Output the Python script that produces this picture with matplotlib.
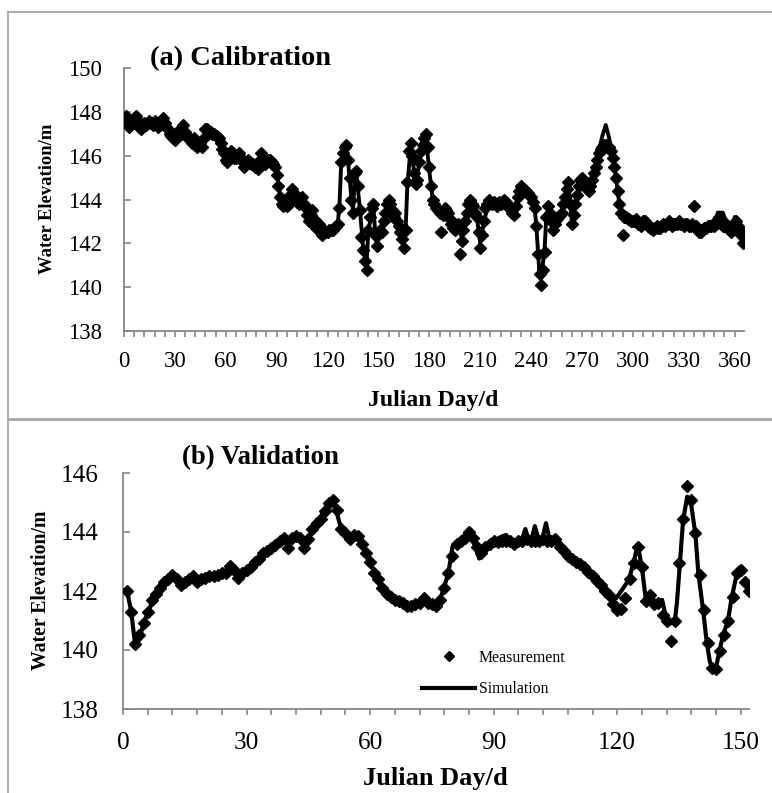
import numpy as np
import matplotlib
matplotlib.use("Agg")
import matplotlib.pyplot as plt
from matplotlib.lines import Line2D
from matplotlib.ticker import MultipleLocator

plt.rcParams['font.family'] = ['Liberation Serif', 'DejaVu Serif']

# ---------------- data: (a) calibration ----------------
cal_meas = [
    147.8, 147.5, 147.3, 147.4, 147.6, 147.7, 147.8, 147.6, 147.3, 147.2,
    147.4, 147.5, 147.4, 147.5, 147.6, 147.5, 147.4, 147.6, 147.5, 147.3,
    147.4, 147.6, 147.7, 147.5, 147.3, 147.2, 147.0, 146.9, 146.8, 146.7,
    146.9, 147.1, 147.2, 147.0, 147.4, 147.1, 146.9, 146.8, 146.7, 146.6,
    146.8, 146.5, 146.4, 146.6, 146.6, 146.4, 146.8, 147.2, 147.2, 147.1,
    147.1, 147.0, 147.0, 146.9, 146.9, 146.8, 146.6, 146.3, 146.1, 145.8,
    145.7, 146.0, 146.2, 146.1, 145.9, 145.9, 146.0, 146.1, 145.9, 145.7,
    145.5, 145.7, 145.8, 145.7, 145.6, 145.6, 145.5, 145.5, 145.4, 145.8,
    146.1, 145.8, 145.6, 145.7, 145.8, 145.8, 145.7, 145.6, 145.5, 145.1,
    144.6, 144.1, 143.8, 143.7, 143.8, 143.7, 143.8, 144.2, 144.5, 144.3,
    144.0, 143.9, 143.8, 144.0, 144.1, 143.8, 143.6, 143.3, 143.0, 143.3,
    143.5, 143.1, 142.7, 142.8, 142.9, 142.6, 142.4, 142.6, 142.5, 142.5,
    142.6, 142.6, 142.6, 142.7, 142.8, 142.9, 143.6, 145.7, 146.1, 146.4,
    146.5, 145.8, 145.0, 144.0, 143.4, 145.2, 145.3, 144.6, 143.5, 142.3,
    141.7, 141.2, 140.8, 142.6, 143.2, 143.6, 143.8, 142.4, 141.9, 142.4,
    142.6, 142.5, 143.0, 143.4, 143.8, 144.0, 143.8, 143.5, 143.2, 143.4,
    143.0, 142.8, 142.5, 142.2, 141.8, 142.6, 144.8, 146.2, 146.6, 146.0,
    145.2, 144.7, 144.9, 145.7, 146.2, 146.5, 146.8, 147.0, 146.4, 145.5,
    144.6, 144.0, 143.8, 143.6, 143.5, 143.4, 142.5, 143.3, 143.6, 143.5,
    143.4, 143.1, 142.9, 142.7, 142.6, 142.8, 142.9, 141.5, 142.1, 142.6,
    143.0, 143.4, 143.8, 144.0, 143.8, 143.7, 143.4, 143.2, 142.5, 141.8,
    142.4, 143.0, 143.6, 143.8, 144.0, 143.9, 143.8, 143.9, 143.8, 143.7,
    143.9, 143.8, 143.9, 144.0, 143.9, 143.8, 143.6, 143.6, 143.4, 143.3,
    143.7, 144.1, 144.4, 144.6, 144.5, 144.5, 144.4, 144.3, 144.2, 144.1,
    143.9, 143.6, 142.8, 141.5, 140.6, 140.1, 140.8, 141.6, 143.2, 143.7,
    143.4, 143.0, 142.6, 142.9, 143.1, 143.2, 143.3, 143.4, 143.8, 144.1,
    144.5, 144.8, 143.8, 142.9, 143.3, 143.8, 144.2, 144.6, 144.9, 145.0,
    144.8, 144.7, 144.5, 144.4, 144.6, 144.9, 145.2, 145.5, 145.8, 146.1,
    146.3, 146.4, 146.5, 146.5, 146.4, 146.4, 146.2, 145.9, 145.5, 145.0,
    144.4, 143.8, 143.4, 142.4, 143.2, 143.2, 143.1, 143.1, 143.0, 143.0,
    143.0, 143.1, 142.9, 142.9, 142.8, 143.0, 143.0, 142.9, 142.8, 142.7,
    142.7, 142.6, 142.7, 142.8, 142.7, 142.7, 142.8, 142.9, 142.8, 142.9,
    143.0, 142.9, 142.8, 142.9, 142.9, 142.9, 143.0, 142.9, 142.9, 142.8,
    142.9, 142.9, 142.8, 142.8, 142.9, 143.7, 142.8, 142.7, 142.5, 142.5,
    142.6, 142.7, 142.7, 142.8, 142.8, 142.8, 142.9, 142.8, 142.9, 143.1,
    143.2, 142.9, 142.8, 142.8, 142.9, 142.7, 142.6, 142.5, 142.7, 142.9,
    143.0, 142.8, 142.6, 142.4, 142.0,
]
cal_sim_days = [1, 3, 5, 7, 10, 13, 16, 19, 23, 26, 29, 31, 33, 35, 37, 40, 43, 46, 48, 51,
                54, 57, 59, 61, 63, 66, 68, 71, 73, 76, 79, 81, 83, 86, 89, 90, 92, 94, 97, 99,
                101, 103, 105, 107, 109, 111, 113, 115, 117, 120, 123, 125, 126, 127, 128, 130, 131, 132, 134, 135,
                136, 137, 139, 141, 143, 144, 147, 148, 149, 151, 153, 156, 158, 160, 163, 165, 166, 167, 169, 171,
                172, 174, 176, 178, 180, 182, 186, 189, 191, 195, 197, 199, 201, 204, 206, 208, 210, 212, 215, 220,
                224, 227, 230, 233, 235, 239, 242, 243, 244, 245, 246, 248, 249, 251, 253, 256, 258, 262, 264, 266,
                270, 274, 278, 282, 284, 286, 288, 290, 292, 294, 297, 302, 307, 312, 316, 321, 326, 331, 335, 340,
                344, 347, 349, 350, 353, 355, 357, 358, 360, 362, 364, 365]
cal_sim_vals = [147.7, 147.4, 147.6, 147.7, 147.3, 147.4, 147.5, 147.5, 147.6, 147.3, 146.9, 146.9, 147.1, 147.3, 147.0, 146.7, 146.5, 146.5, 147.1, 147.1,
                146.9, 146.6, 146.2, 145.8, 146.1, 145.9, 146.0, 145.6, 145.8, 145.6, 145.5, 145.9, 145.7, 145.8, 145.6, 145.2, 144.2, 143.8, 143.8, 144.4,
                144.1, 143.9, 144.0, 143.6, 143.1, 143.4, 142.8, 142.8, 142.5, 142.5, 142.6, 142.8, 142.9, 143.7, 145.6, 146.3, 146.4, 145.8, 144.1, 143.5,
                145.0, 145.2, 143.6, 141.8, 141.0, 142.6, 143.7, 142.6, 142.0, 142.5, 143.0, 143.9, 143.5, 143.3, 142.6, 142.0, 142.6, 144.6, 146.4, 145.3,
                144.8, 145.6, 146.6, 146.8, 145.3, 144.0, 143.4, 143.6, 143.4, 142.6, 142.8, 142.3, 143.0, 143.9, 143.7, 143.2, 142.0, 142.9, 143.9, 143.8,
                143.9, 143.6, 143.4, 144.3, 144.5, 144.2, 143.6, 142.9, 141.7, 140.5, 140.4, 141.8, 143.3, 143.4, 142.7, 143.2, 143.5, 144.7, 143.0, 143.8,
                144.9, 144.5, 145.6, 146.9, 147.4, 146.8, 146.0, 145.0, 143.8, 143.3, 143.1, 143.1, 142.9, 142.6, 142.8, 143.0, 142.9, 142.9, 142.8, 142.5,
                142.7, 142.8, 143.0, 143.4, 143.4, 143.0, 142.8, 142.7, 143.2, 143.1, 142.6, 142.2]

# ---------------- data: (b) validation ----------------
val_meas = [
    142.0, 141.3, 140.2, 140.5, 140.9, 141.3, 141.7, 141.9, 142.1, 142.3,
    142.4, 142.55, 142.4, 142.2, 142.3, 142.4, 142.5, 142.3, 142.4, 142.45,
    142.5, 142.5, 142.55, 142.6, 142.6, 142.85, 142.7, 142.45, 142.6, 142.7,
    142.8, 143.0, 143.1, 143.3, 143.35, 143.45, 143.55, 143.7, 143.8, 143.45,
    143.8, 143.85, 143.8, 143.45, 143.75, 144.1, 144.3, 144.45, 144.7, 145.0,
    145.1, 144.75, 144.1, 143.95, 143.75, 143.9, 143.85, 143.6, 143.3, 143.0,
    142.6, 142.4, 142.1, 141.9, 141.8, 141.7, 141.65, 141.6, 141.5, 141.5,
    141.55, 141.6, 141.75, 141.6, 141.55, 141.5, 141.7, 142.1, 142.6, 143.2,
    143.6, 143.7, 143.8, 144.0, 143.8, 143.5, 143.3, 143.5, 143.6, 143.7,
    143.65, 143.7, 143.7, 143.7, 143.6, 143.7, 143.7, 143.75, 143.7, 143.7,
    143.7, 143.75, 143.7, 143.7, 143.75, 143.5, 143.35, 143.2, 143.1, 143.0,
    142.9, 142.8, 142.65, 142.5, 142.35, 142.2, 142.0, 141.85, 141.55, 141.35,
    141.4, 141.75, 142.4, 142.95, 143.5, 142.8, 141.65, 141.85, 141.55, 141.6,
    141.2, 141.0, 140.3, 141.0, 142.95, 144.45, 145.55, 145.1, 143.95, 142.55,
    141.35, 140.25, 139.4, 139.35, 139.95, 140.5, 141.0, 141.8, 142.6, 142.7,
    142.3, 142.0,
]
val_sim_days = [1, 2, 3, 4, 5, 7, 9, 11, 12, 14, 16, 18, 22, 25, 26, 28, 30, 33, 35, 38,
                39, 40, 41, 43, 44, 46, 48, 50, 51, 52, 53, 55, 57, 58, 60, 62, 64, 66, 69, 71,
                73, 74, 76, 77, 79, 80, 82, 84, 85, 86.5, 88, 90, 92, 93, 94, 95.5, 97, 97.7, 98.5, 99.3,
                100, 100.8, 101.7, 102.7, 103.5, 105.5, 107.5, 108.3, 109, 110, 112.4, 114.8, 117.3, 119.7, 121, 122.9, 124, 125, 126, 126.9,
                127.7, 129.3, 130.9, 131.7, 133, 134, 134.5, 135.2, 136, 137, 138, 139, 139.7, 140.9, 141.7, 142.5, 143.2, 144, 144.7, 145.7,
                146.9, 147.7, 148.9, 149.7, 150.3]
val_sim_vals = [142.0, 141.3, 140.1, 140.4, 140.9, 141.6, 142.0, 142.4, 142.55, 142.2, 142.4, 142.3, 142.5, 142.6, 142.85, 142.45, 142.7, 143.1, 143.4, 143.7,
                143.85, 143.5, 143.85, 143.85, 143.5, 144.1, 144.5, 145.05, 145.15, 144.6, 144.1, 143.8, 143.9, 143.6, 143.0, 142.3, 141.9, 141.7, 141.5, 141.55,
                141.8, 141.6, 141.5, 141.7, 142.6, 143.5, 143.7, 144.1, 143.7, 143.1, 143.55, 143.7, 143.85, 143.9, 143.75, 143.6, 143.8, 144.1, 143.7, 143.8,
                144.2, 143.8, 143.7, 144.3, 143.8, 143.75, 143.4, 143.05, 143.2, 143.05, 142.8, 142.4, 142.0, 141.75, 142.0, 142.4, 143.0, 143.55, 142.8, 141.75,
                141.9, 141.6, 141.7, 141.2, 140.9, 141.0, 141.6, 142.9, 144.4, 145.2, 144.9, 143.9, 142.6, 141.3, 140.3, 139.6, 139.35, 139.4, 139.9, 140.5,
                141.0, 141.7, 142.5, 142.8, 142.6]

# ---------------- figure ----------------
W, H = 772, 793
fig = plt.figure(figsize=(W / 100, H / 100), dpi=100)

def fx(px):
    return px / W

def fy(py):
    return 1 - py / H

frame_c = '#A6A6A6'
spine_c = '#868686'

# outer frames
fig.add_artist(Line2D([fx(8), fx(772)], [fy(12), fy(12)], color=frame_c, lw=1.3))
fig.add_artist(Line2D([fx(8), fx(8)], [fy(12), fy(793)], color=frame_c, lw=1.3))
fig.add_artist(Line2D([fx(8), fx(772)], [fy(419), fy(419)], color=frame_c, lw=2.0))

def style_axes(ax, ylo, yhi, xmax, tsize, xpad, ypad):
    for s in ['top', 'right']:
        ax.spines[s].set_visible(False)
    for s in ['left', 'bottom']:
        ax.spines[s].set_color(spine_c)
        ax.spines[s].set_linewidth(1.3)
    ax.set_ylim(ylo, yhi)
    ax.set_xlim(0, xmax)
    ax.yaxis.set_major_locator(MultipleLocator(2))
    ax.xaxis.set_major_locator(MultipleLocator(30))
    ax.xaxis.set_minor_locator(MultipleLocator(6))
    ax.tick_params(axis='y', direction='in', length=5, width=1.2, color=spine_c,
                   labelsize=tsize, pad=ypad)
    ax.tick_params(axis='x', which='both', direction='out', length=4, width=1.2,
                   color=spine_c, labelsize=tsize, pad=xpad)
    ax.set_facecolor('none')

# (a) Calibration
ax1 = fig.add_axes([fx(124), fy(331), (744 - 124) / W, (331 - 68) / H])
style_axes(ax1, 138, 150, 365.5, 16.3, 10.3, 15.8)
d_a = np.arange(1, len(cal_meas) + 1)
ax1.plot(cal_sim_days, cal_sim_vals, color='black', lw=2.8, zorder=3)
ax1.plot(d_a, cal_meas, linestyle='none', marker='D', ms=5.8, color='black', zorder=4)

# (b) Validation
ax2 = fig.add_axes([fx(123), fy(709), (749 - 123) / W, (709 - 473) / H])
style_axes(ax2, 138, 146, 152, 18.2, 12.3, 17.8)
d_b = np.arange(1, len(val_meas) + 1)
ax2.plot(val_sim_days, val_sim_vals, color='black', lw=3.0, zorder=3, label='Simulation')
ax2.plot(d_b, val_meas, linestyle='none', marker='D', ms=5.8, color='black', zorder=4,
         label='Measurement')

h_meas = Line2D([], [], linestyle='none', marker='D', ms=5, color='black')
h_sim = Line2D([], [], color='black', lw=3.0)
fig.legend([h_meas, h_sim], ['Measurement', 'Simulation'], loc='upper left',
           bbox_to_anchor=(fx(422), fy(650)), frameon=False, fontsize=11.4,
           handlelength=3.35, handletextpad=0.25, labelspacing=0.95,
           borderpad=0, borderaxespad=0)

# texts
fig.text(fx(150), fy(59), '(a) Calibration', fontsize=20.5, fontweight='bold',
         ha='left', va='center')
fig.text(fx(182), fy(458), '(b) Validation', fontsize=19.3, fontweight='bold',
         ha='left', va='center')
fig.text(fx(48), fy(199), 'Water Elevation/m', fontsize=13.4, fontweight='bold',
         rotation=90, ha='center', va='center')
fig.text(fx(41), fy(590), 'Water Elevation/m', fontsize=14.2, fontweight='bold',
         rotation=90, ha='center', va='center')
fig.text(fx(433), fy(406), 'Julian Day/d', fontsize=17.1, fontweight='bold',
         ha='center', va='baseline')
fig.text(fx(435), fy(785), 'Julian Day/d', fontsize=19, fontweight='bold',
         ha='center', va='baseline')

fig.savefig('out.png', dpi=100)
